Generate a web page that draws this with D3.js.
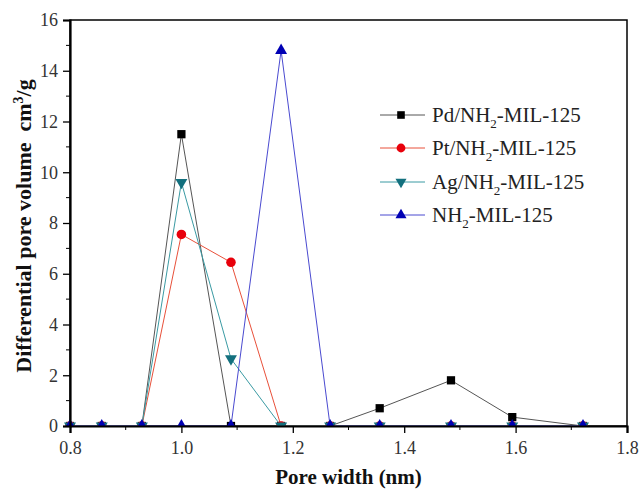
<!DOCTYPE html>
<html><head><meta charset="utf-8">
<script src="https://cdn.jsdelivr.net/npm/d3@7"></script>
<style>body{margin:0;background:#fff}svg{display:block}</style>
</head><body><svg id="c" width="639" height="491"></svg>
<script>
const poreWidth = [0.80, 0.857, 0.929, 1.0, 1.089, 1.179, 1.267, 1.356, 1.484, 1.594, 1.721];
const pdValues  = [0, 0, 0, 11.5, 0, 0, 0, 0.7, 1.8, 0.35, 0];
const ptValues  = [0, 0, 0, 7.55, 6.45, 0, 0, 0, 0, 0, 0];
const agValues  = [0, 0, 0, 9.6, 2.65, 0, 0, 0, 0, 0, 0];
const nh2Values = [0, 0, 0, 0, 0, 14.8, 0, 0, 0, 0, 0];
const seriesNames = ["Pd/NH2-MIL-125", "Pt/NH2-MIL-125", "Ag/NH2-MIL-125", "NH2-MIL-125"];
const xTicks = [0.8, 1.0, 1.2, 1.4, 1.6, 1.8];
const yTicks = [0, 2, 4, 6, 8, 10, 12, 14, 16];

const series = [
  {name: seriesNames[0], vals: pdValues, color: "#000000", line: "#555", sym: d3.symbolSquare, size: 68, rot: 0},
  {name: seriesNames[1], vals: ptValues, color: "#e8000b", line: "#e8503a", sym: d3.symbolCircle, size: 72, rot: 0},
  {name: seriesNames[2], vals: agValues, color: "#13707e", line: "#3a9aa3", sym: d3.symbolTriangle, size: 62, rot: 180},
  {name: seriesNames[3], vals: nh2Values, color: "#0000b4", line: "#4a4ad0", sym: d3.symbolTriangle, size: 62, rot: 0}
];

const svg = d3.select("#c");
const L = 70, R = 627, T = 20, B = 426;
const x = d3.scaleLinear().domain([0.8, 1.8]).range([L, R]);
const y = d3.scaleLinear().domain([0, 16]).range([B, T]);
const font = "'Liberation Serif','Times New Roman',serif";

svg.append("defs").append("clipPath").attr("id", "clip").append("rect")
  .attr("x", L - 10).attr("y", T - 10).attr("width", R - L + 20).attr("height", B - T + 10);

// frame
svg.append("rect").attr("x", L).attr("y", T).attr("width", R - L).attr("height", B - T)
  .attr("fill", "none").attr("stroke", "#000").attr("stroke-width", 1.5);

// lines & markers
const line = d3.line().x(d => x(d[0])).y(d => y(d[1]));
const plot = svg.append("g").attr("clip-path", "url(#clip)");
series.forEach(s => {
  const pts = poreWidth.map((p, i) => [p, s.vals[i]]);
  plot.append("path").datum(pts).attr("d", line).attr("fill", "none").attr("stroke", s.line).attr("stroke-width", 1);
});
series.forEach(s => {
  const pts = poreWidth.map((p, i) => [p, s.vals[i]]);
  plot.append("g").selectAll("path").data(pts).enter().append("path")
    .attr("d", d3.symbol().type(s.sym).size(s.size))
    .attr("transform", d => `translate(${x(d[0])},${y(d[1])}) rotate(${s.rot})`)
    .attr("fill", s.color);
});

// x axis
const xAxis = d3.axisBottom(x).tickValues(xTicks).tickFormat(d3.format(".1f")).tickSize(7).tickPadding(8);
const gx = svg.append("g").attr("transform", `translate(0,${B})`).call(xAxis);
const xMinor = d3.range(0.9, 1.8, 0.2);
gx.selectAll(".minor").data(xMinor).enter().append("line").attr("x1", d => x(d)).attr("x2", d => x(d))
  .attr("y1", 0).attr("y2", 4).attr("stroke", "#000");
// y axis
const yAxis = d3.axisLeft(y).tickValues(yTicks).tickSize(7).tickPadding(5);
const gy = svg.append("g").attr("transform", `translate(${L},0)`).call(yAxis);
const yMinor = d3.range(1, 16, 2);
gy.selectAll(".minor").data(yMinor).enter().append("line").attr("y1", d => y(d)).attr("y2", d => y(d))
  .attr("x1", 0).attr("x2", -4).attr("stroke", "#000");
[gx, gy].forEach(g => {
  g.select(".domain").attr("stroke", "#000").attr("stroke-width", 2.2);
  g.selectAll(".tick line").attr("stroke-width", 1.3);
  g.selectAll("text").attr("font-family", font).attr("font-size", 18).attr("fill", "#333");
});

// axis titles
svg.append("text").attr("x", (L + R) / 2).attr("y", 484).attr("text-anchor", "middle")
  .attr("font-family", font).attr("font-size", 21).attr("font-weight", "bold").attr("fill", "#111").text("Pore width (nm)");
const yt = svg.append("text").attr("transform", `translate(31,226) rotate(-90)`)
  .attr("text-anchor", "middle").attr("font-family", font).attr("font-size", 22).attr("font-weight", "bold").attr("fill", "#111");
yt.append("tspan").text("Differential pore volume\u00a0\u00a0cm");
yt.append("tspan").attr("dy", -8).attr("font-size", 14).text("3");
yt.append("tspan").attr("dy", 8).text("/g");

// legend
const legY = [115, 148, 182, 215];
series.forEach((s, i) => {
  const g = svg.append("g").attr("transform", `translate(0,${legY[i]})`);
  g.append("line").attr("x1", 380).attr("x2", 425).attr("y1", 0).attr("y2", 0).attr("stroke", s.line).attr("stroke-width", 1);
  g.append("path").attr("d", d3.symbol().type(s.sym).size(s.size * 0.85))
    .attr("transform", `translate(401,0) rotate(${s.rot})`).attr("fill", s.color);
  const t = g.append("text").attr("x", 432).attr("y", 7).attr("font-family", font).attr("font-size", 21).attr("fill", "#222");
  const parts = s.name.split("NH2");
  t.append("tspan").text(parts[0] + "NH");
  t.append("tspan").attr("dy", 6).attr("font-size", 13).text("2");
  t.append("tspan").attr("dy", -6).text(parts[1]);
});
</script></body></html>
